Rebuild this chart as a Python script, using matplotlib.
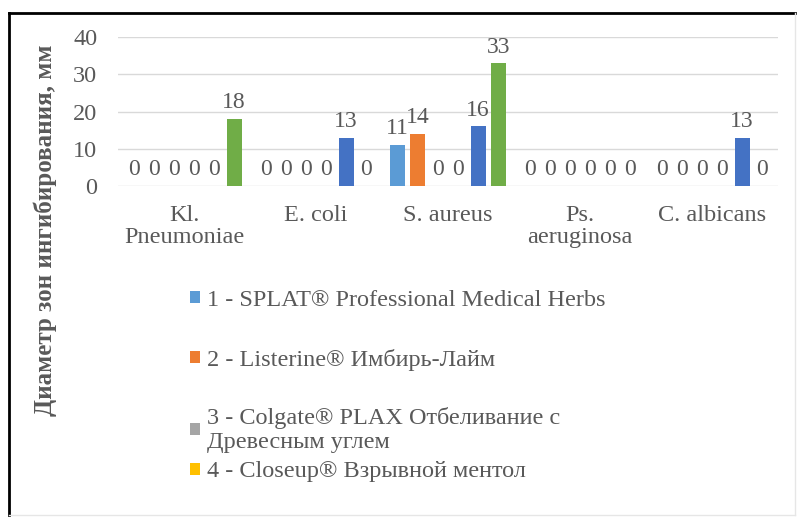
import matplotlib.pyplot as plt
import numpy as np
from matplotlib.lines import Line2D
from matplotlib.patches import Patch

categories = ["Kl.\nPneumoniae", "E. coli", "S. aureus", "Ps.\naeruginosa", "C. albicans"]
series_names = ["1 - SPLAT® Professional Medical Herbs",
                "2 - Listerine® Имбирь-Лайм",
                "3 - Colgate® PLAX Отбеливание с\nДревесным углем",
                "4 - Closeup® Взрывной ментол",
                "5",
                "6"]
s1 = [0, 0, 11, 0, 0]
s2 = [0, 0, 14, 0, 0]
s3 = [0, 0, 0, 0, 0]
s4 = [0, 0, 0, 0, 0]
s5 = [0, 13, 16, 0, 13]
s6 = [18, 0, 33, 0, 0]
values = [s1, s2, s3, s4, s5, s6]
colors = ["#5B9BD5", "#ED7D31", "#A5A5A5", "#FFC000", "#4472C4", "#70AD47"]
yticks = [0, 10, 20, 30, 40]

FAM = 'Liberation Serif'
txt = "#595959"

fig = plt.figure(figsize=(7.98, 5.2), dpi=100)
ax = fig.add_axes([118 / 798, 1 - 186 / 520, (778 - 118) / 798, (186 - 37) / 520])

x = np.arange(len(categories))
slot = 0.152
width = 0.115
for i, (vals, c) in enumerate(zip(values, colors)):
    bars = ax.bar(x + (i - 2.5) * slot, vals, width, color=c, label=series_names[i], zorder=2)
    ax.bar_label(bars, padding=4, fontsize=17, color=txt, family=FAM)

ax.set_xlim(-0.5, len(categories) - 0.5)
ax.set_ylim(0, 40)
ax.set_yticks(yticks)
ax.set_yticklabels([str(v) for v in yticks], fontsize=17.5, color=txt, family=FAM)
ax.set_xticks(x)
ax.set_xticklabels(categories, fontsize=17.5, color=txt, linespacing=1.05, family=FAM)
ax.tick_params(axis='y', length=0, pad=15)
ax.tick_params(axis='x', length=0, pad=14)
ax.grid(axis='y', color="#D9D9D9", linewidth=1, zorder=0)
for s in ax.spines.values():
    s.set_visible(False)

fig.text(45 / 798, 1 - 230 / 520, "Диаметр зон ингибирования, мм", rotation=90,
         ha='center', va='center', fontsize=18, fontweight='bold', color=txt, family=FAM)

# legend entries (only the first four fit in the original box)
leg_y = [300, 360, 430, 472]
for i, yy in enumerate(leg_y):
    h = Patch(facecolor=colors[i])
    fig.legend([h], [series_names[i]], loc='center left',
               bbox_to_anchor=(190 / 798, 1 - yy / 520), frameon=False,
               prop={'family': FAM, 'size': 17.5}, handlelength=0.4, handleheight=0.4,
               handletextpad=0.3, borderpad=0, labelcolor=txt, borderaxespad=0)

# outer frame
fig.add_artist(Line2D([9 / 798, 9 / 798], [0.01, 1 - 13 / 520], color='black', lw=2))
fig.add_artist(Line2D([9 / 798, 795 / 798], [1 - 13 / 520, 1 - 13 / 520], color='black', lw=2))
fig.add_artist(Line2D([795 / 798, 795 / 798], [0.01, 1 - 13 / 520], color='#E6E6E6', lw=1))
fig.add_artist(Line2D([9 / 798, 795 / 798], [0.01, 0.01], color='#E6E6E6', lw=1))

fig.savefig("out.png", dpi=100)
